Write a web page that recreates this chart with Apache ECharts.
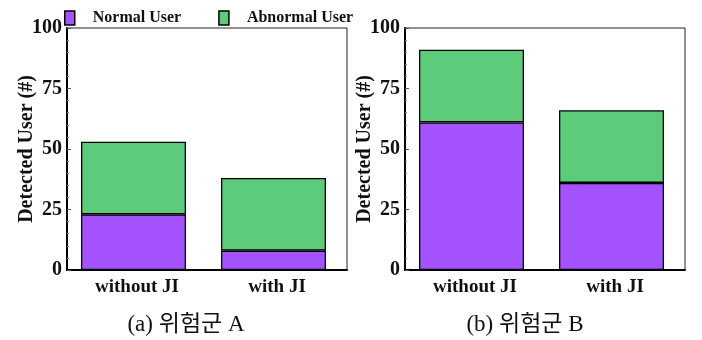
<!DOCTYPE html>
<html><head><meta charset="utf-8">
<script src="https://cdn.jsdelivr.net/npm/echarts@6/dist/echarts.min.js"></script>
<style>html,body{margin:0;padding:0;background:#fff}#c{width:702px;height:340px}</style>
</head><body><div id="c"></div>
<script>
const categories = ['without JI', 'with JI'];
const normalA = [23, 8];
const abnormalA = [30, 30];
const normalB = [61, 36];
const abnormalB = [30, 30];
const padValues = [0, 0];
const yTicks = [0, 25, 50, 75, 100];
const seriesNames = ['Normal User', 'Abnormal User'];
const panelTitles = ['(a) 위험군 A', '(b) 위험군 B'];

const serif = '"Liberation Serif", "Times New Roman", "Noto Sans CJK KR", serif';
const purple = '#A553FE';
const green = '#5CCB7A';

function yAxis(idx) {
  return {
    type: 'value', gridIndex: idx, min: yTicks[0], max: yTicks[yTicks.length - 1], interval: 25,
    name: 'Detected User (#)', nameLocation: 'middle', nameGap: 30, nameRotate: 90,
    nameMoveOverlap: false,
    nameTextStyle: { fontFamily: serif, fontWeight: 'bold', fontSize: 20, color: '#111' },
    axisLine: { show: true, lineStyle: { color: '#000', width: 2 } },
    axisTick: { show: true, inside: true, length: 4, lineStyle: { color: '#555' } },
    minorTick: { show: true, splitNumber: 5, length: 2, lineStyle: { color: '#777' } },
    splitLine: { show: false },
    axisLabel: { fontFamily: serif, fontWeight: 'bold', fontSize: 20, color: '#111', margin: 5 }
  };
}
function xAxis(idx) {
  return {
    type: 'category', gridIndex: idx, data: categories,
    axisLine: { show: true, lineStyle: { color: '#000', width: 2 } },
    axisTick: { show: false },
    axisLabel: { fontFamily: serif, fontWeight: 'bold', fontSize: 19, color: '#111', margin: 8 }
  };
}
const itemBorder = { borderColor: '#000', borderWidth: 1.3 };
function bar(name, data, idx, color, stack) {
  return {
    name: name, type: 'bar', stack: stack, xAxisIndex: idx, yAxisIndex: idx, data: data,
    barWidth: 105, barGap: '0%', itemStyle: Object.assign({ color: color }, itemBorder)
  };
}
function pad(idx) {
  return {
    name: 'pad', type: 'bar', xAxisIndex: idx, yAxisIndex: idx, data: padValues,
    barWidth: 7, barGap: '0%', silent: true, itemStyle: { color: 'rgba(0,0,0,0)' }
  };
}
const chart = echarts.init(document.getElementById('c'), null, { renderer: 'canvas' });
chart.setOption({
  animation: false,
  backgroundColor: '#fff',
  legend: {
    left: 59, top: 5, itemWidth: 10, itemHeight: 14, itemGap: 37,
    data: seriesNames.map(n => ({ name: n, icon: 'rect' })),
    itemStyle: { borderColor: '#000', borderWidth: 1.5 },
    textStyle: { fontFamily: serif, fontWeight: 'bold', fontSize: 16, color: '#111', padding: [0, 0, 0, 13] }
  },
  title: [
    { text: panelTitles[0], left: 181, top: 308, textAlign: 'center',
      textStyle: { fontFamily: serif, fontWeight: 'normal', fontSize: 23, color: '#111' } },
    { text: panelTitles[1], left: 520, top: 308, textAlign: 'center',
      textStyle: { fontFamily: serif, fontWeight: 'normal', fontSize: 23, color: '#111' } }
  ],
  grid: [
    { left: 67, right: 355, top: 28, bottom: 70, show: true, borderColor: '#222', borderWidth: 1 },
    { left: 405, right: 17, top: 28, bottom: 70, show: true, borderColor: '#222', borderWidth: 1 }
  ],
  xAxis: [xAxis(0), xAxis(1)],
  yAxis: [yAxis(0), yAxis(1)],
  series: [
    bar(seriesNames[0], normalA, 0, purple, 'a'),
    bar(seriesNames[1], abnormalA, 0, green, 'a'),
    pad(0),
    bar(seriesNames[0], normalB, 1, purple, 'b'),
    bar(seriesNames[1], abnormalB, 1, green, 'b'),
    pad(1)
  ]
});
</script></body></html>
